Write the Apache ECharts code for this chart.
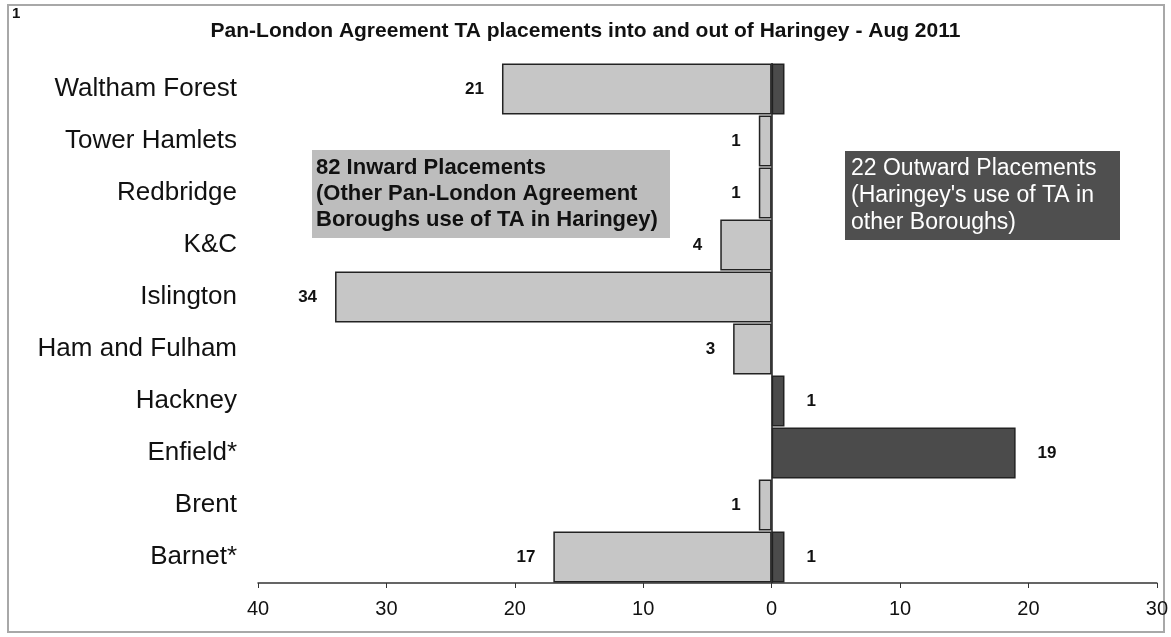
<!DOCTYPE html>
<html lang="en">
<head>
    <meta charset="utf-8" />
    <title>Pan-London Agreement TA placements</title>
    <script src="https://cdn.jsdelivr.net/npm/echarts@6/dist/echarts.min.js"></script>
    <style>
        html, body { margin: 0; padding: 0; background: #fff; }
        #chart { width: 1171px; height: 637px; }
    </style>
</head>
<body>
    <div id="chart"></div>
    <script>
        // data, top row first
        var boroughs = ['Waltham Forest', 'Tower Hamlets', 'Redbridge', 'K&C', 'Islington',
            'Ham and Fulham', 'Hackney', 'Enfield*', 'Brent', 'Barnet*'];
        var inward = [21, 1, 1, 4, 34, 3, 0, 0, 1, 17];
        var outward = [1, 0, 0, 0, 0, 0, 1, 19, 0, 1];
        var outwardLabelled = [false, true, true, true, true, true, true, true, true, true];
        var xTicks = [-40, -30, -20, -10, 0, 10, 20, 30];

        var titleText = 'Pan-London Agreement TA placements into and out of Haringey - Aug 2011';
        var inwardNote = ['82 Inward Placements', '(Other Pan-London Agreement', 'Boroughs use of TA in Haringey)'];
        var outwardNote = ['22 Outward Placements', "(Haringey's use of TA in", 'other Boroughs)'];

        var FONT = '"Liberation Sans", Arial, sans-serif';

        var dom = document.getElementById('chart');
        var myChart = echarts.init(dom);

        var inwardData = inward.map(function (v) {
            return v ? -v : '-';
        });
        var outwardData = outward.map(function (v, i) {
            if (!v) return '-';
            return { value: v, label: { show: outwardLabelled[i] } };
        });

        var option = {
            animation: false,
            backgroundColor: '#fff',
            textStyle: { fontFamily: FONT, color: '#000' },
            title: {
                text: titleText,
                left: 'center',
                top: 16,
                textStyle: { fontFamily: FONT, fontSize: 21, fontWeight: 'bold', color: '#111' }
            },
            grid: { left: 258, right: 13, top: 63, bottom: 54 },
            xAxis: {
                type: 'value',
                min: xTicks[0],
                max: xTicks[xTicks.length - 1],
                interval: 10,
                splitLine: { show: false },
                axisLine: { show: true, lineStyle: { color: '#333', width: 1.5 } },
                axisTick: { show: true, length: 5, lineStyle: { color: '#333' } },
                axisLabel: {
                    margin: 16,
                    fontSize: 20,
                    color: '#111',
                    fontFamily: FONT,
                    formatter: function (v) { return Math.abs(v); }
                }
            },
            yAxis: {
                type: 'category',
                inverse: true,
                data: boroughs,
                axisLine: { show: false, onZero: false },
                axisTick: { show: false },
                axisLabel: { margin: 21, fontSize: 26, color: '#111', fontFamily: FONT }
            },
            series: [
                {
                    name: 'Inward',
                    type: 'bar',
                    data: inwardData,
                    barGap: '-100%',
                    barCategoryGap: '2%',
                    itemStyle: { color: '#c6c6c6', borderColor: '#222', borderWidth: 1.5 },
                    label: {
                        show: true,
                        position: 'left',
                        distance: 18,
                        fontSize: 17,
                        fontWeight: 'bold',
                        color: '#111',
                        formatter: function (p) { return Math.abs(p.value); }
                    }
                },
                {
                    name: 'Outward',
                    type: 'bar',
                    data: outwardData,
                    barGap: '-100%',
                    barCategoryGap: '2%',
                    itemStyle: { color: '#4b4b4b', borderColor: '#222', borderWidth: 1.5 },
                    label: {
                        show: true,
                        position: 'right',
                        distance: 22,
                        fontSize: 17,
                        fontWeight: 'bold',
                        color: '#111'
                    },
                    markLine: {
                        silent: true,
                        symbol: 'none',
                        label: { show: false },
                        lineStyle: { color: '#222', width: 1.5, type: 'solid' },
                        data: [{ xAxis: 0 }]
                    }
                }
            ],
            graphic: [
                {
                    type: 'rect',
                    shape: { x: 8, y: 5, width: 1156, height: 627 },
                    style: { fill: 'none', stroke: '#a8a8a8', lineWidth: 2 },
                    silent: true
                },
                {
                    type: 'text',
                    left: 12,
                    top: 6,
                    style: { text: '1', font: 'bold 15px ' + FONT, fill: '#111' }
                },
                {
                    type: 'rect',
                    shape: { x: 312, y: 150, width: 358, height: 88 },
                    style: { fill: '#bdbdbd' },
                    silent: true
                },
                {
                    type: 'text',
                    left: 316,
                    top: 155,
                    style: {
                        text: inwardNote.join('\n'),
                        font: 'bold 22px ' + FONT,
                        lineHeight: 26,
                        fill: '#111'
                    }
                },
                {
                    type: 'rect',
                    shape: { x: 845, y: 151, width: 275, height: 89 },
                    style: { fill: '#4f4f4f' },
                    silent: true
                },
                {
                    type: 'text',
                    left: 851,
                    top: 155,
                    style: {
                        text: outwardNote.join('\n'),
                        font: '23px ' + FONT,
                        lineHeight: 27,
                        fill: '#fff'
                    }
                }
            ]
        };

        if (option && typeof option === 'object') {
            myChart.setOption(option, true);
        }
    </script>
</body>
</html>
